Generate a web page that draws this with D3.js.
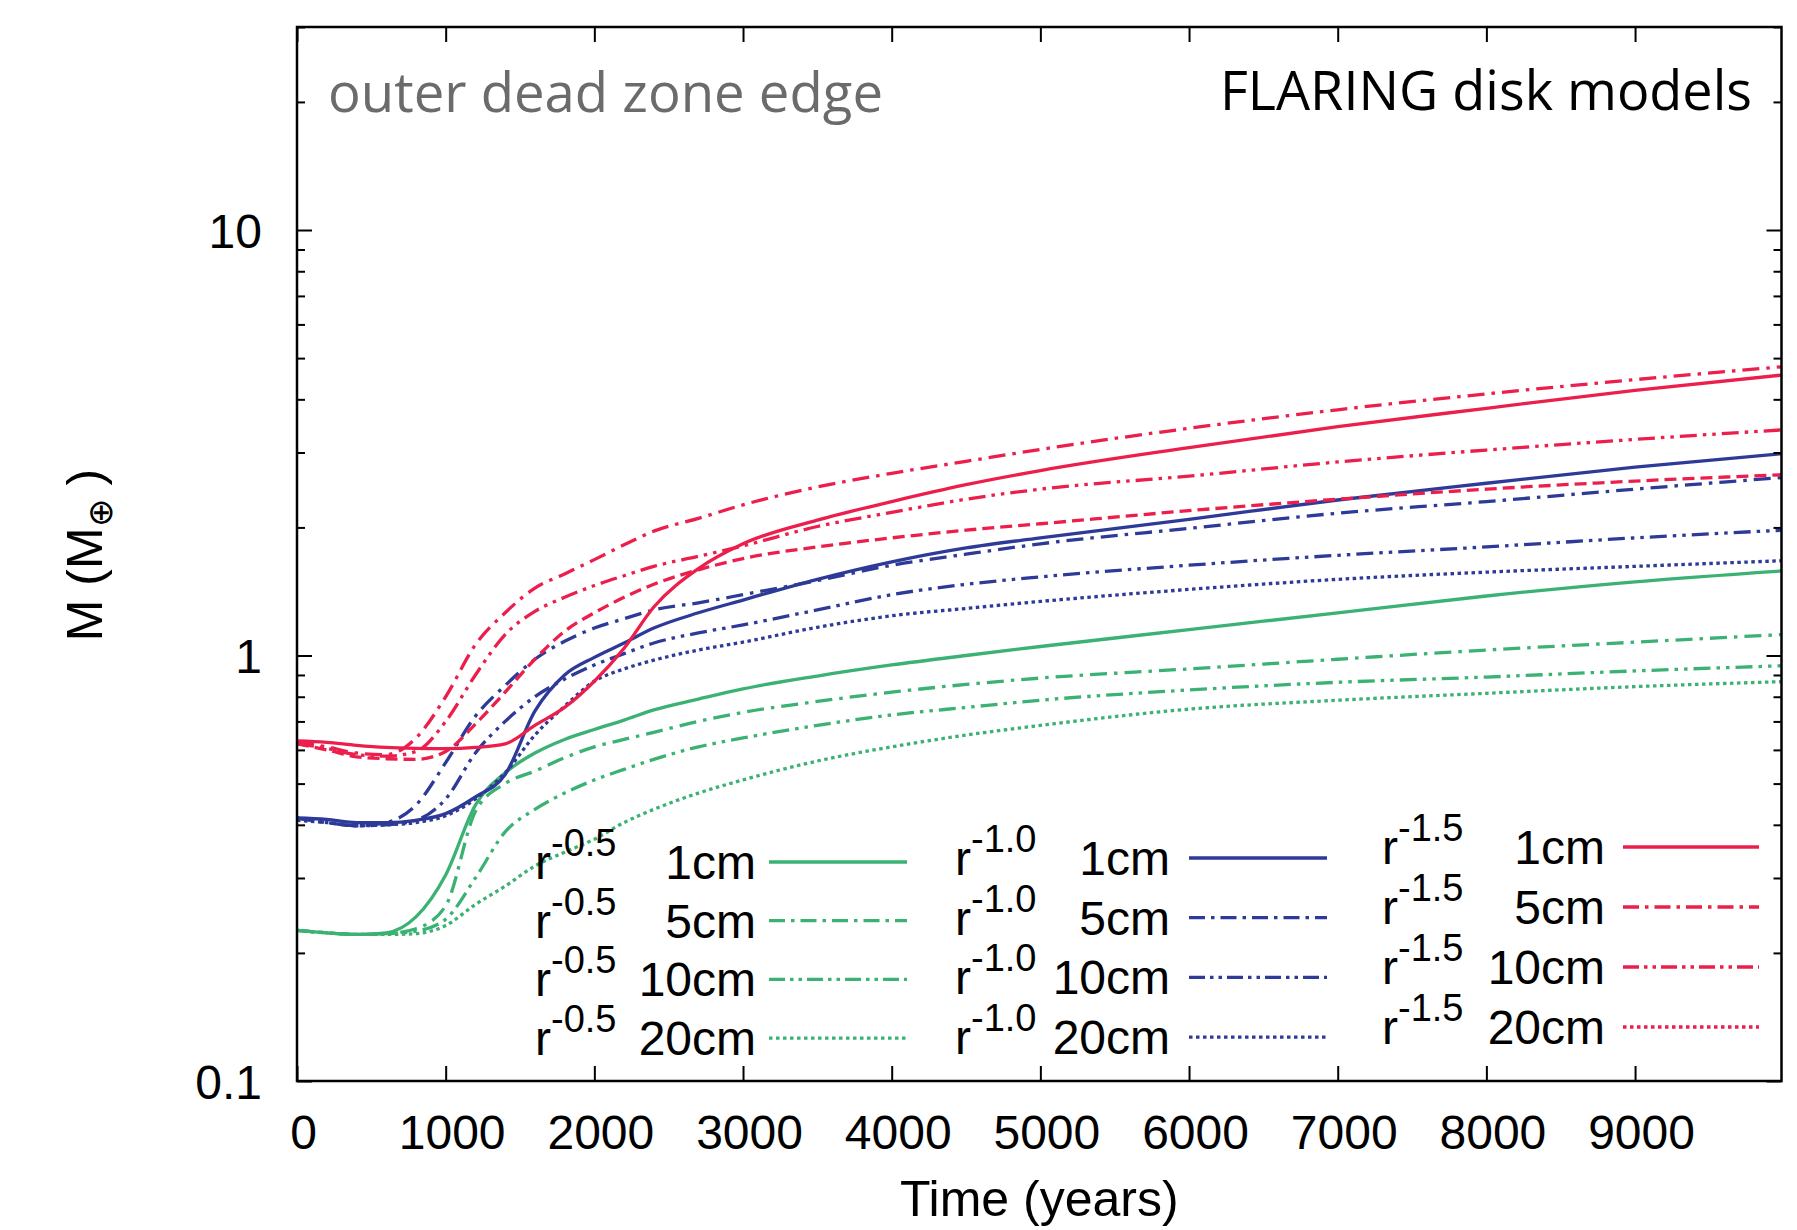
<!DOCTYPE html>
<html>
<head>
<meta charset="utf-8">
<script src="https://cdn.jsdelivr.net/npm/d3@7"></script>
<style>
  body { margin: 0; background: #ffffff; }
  svg { display: block; }
</style>
</head>
<body>
<svg id="chart" width="1797" height="1230"></svg>
<script>
// Sampling times (years)
const times = [0, 200, 400, 600, 800, 1000, 1200, 1400, 1600, 1800, 2000, 2200, 2400,
               2700, 3000, 3500, 4000, 4500, 5000, 6000, 7000, 8000, 9000, 9985];

// Legend categories
const exponents = ["-0.5", "-1.0", "-1.5"];
const sizes = ["1cm", "5cm", "10cm", "20cm"];

// Mass (Earth masses) at the outer dead zone edge, surface density ~ r^-0.5
const mR05_1cm  = [0.226, 0.223, 0.221, 0.223, 0.243, 0.305, 0.445, 0.530, 0.590, 0.635, 0.670, 0.705, 0.745, 0.790, 0.835, 0.895, 0.950, 1.000, 1.050, 1.150, 1.260, 1.380, 1.490, 1.580];
const mR05_5cm  = [0.226, 0.223, 0.221, 0.222, 0.228, 0.258, 0.430, 0.500, 0.535, 0.575, 0.610, 0.635, 0.660, 0.700, 0.735, 0.780, 0.820, 0.855, 0.885, 0.930, 0.980, 1.030, 1.075, 1.120];
const mR05_10cm = [0.226, 0.223, 0.221, 0.222, 0.225, 0.240, 0.300, 0.385, 0.435, 0.475, 0.510, 0.540, 0.570, 0.610, 0.640, 0.685, 0.725, 0.755, 0.785, 0.830, 0.865, 0.890, 0.920, 0.946];
const mR05_20cm = [0.226, 0.223, 0.221, 0.221, 0.222, 0.232, 0.260, 0.287, 0.320, 0.345, 0.370, 0.405, 0.435, 0.475, 0.510, 0.565, 0.610, 0.650, 0.685, 0.748, 0.785, 0.815, 0.845, 0.868];

// surface density ~ r^-1.0
const mR10_1cm  = [0.415, 0.412, 0.405, 0.405, 0.410, 0.425, 0.465, 0.525, 0.740, 0.900, 0.990, 1.070, 1.160, 1.260, 1.350, 1.510, 1.660, 1.790, 1.890, 2.090, 2.320, 2.540, 2.770, 2.980];
const mR10_5cm  = [0.415, 0.405, 0.398, 0.405, 0.445, 0.560, 0.720, 0.850, 0.980, 1.080, 1.160, 1.220, 1.280, 1.330, 1.390, 1.500, 1.630, 1.730, 1.830, 1.990, 2.160, 2.300, 2.460, 2.620];
const mR10_10cm = [0.415, 0.405, 0.398, 0.400, 0.410, 0.460, 0.590, 0.700, 0.800, 0.880, 0.950, 1.010, 1.070, 1.130, 1.180, 1.280, 1.390, 1.470, 1.530, 1.630, 1.720, 1.800, 1.890, 1.970];
const mR10_20cm = [0.410, 0.405, 0.398, 0.400, 0.405, 0.420, 0.460, 0.530, 0.650, 0.760, 0.870, 0.930, 0.975, 1.030, 1.075, 1.165, 1.240, 1.290, 1.340, 1.430, 1.510, 1.570, 1.620, 1.670];

// surface density ~ r^-1.5
const mR15_1cm  = [0.630, 0.625, 0.615, 0.608, 0.605, 0.604, 0.608, 0.620, 0.685, 0.755, 0.870, 1.040, 1.300, 1.600, 1.830, 2.080, 2.300, 2.520, 2.720, 3.080, 3.450, 3.810, 4.200, 4.560];
const mR15_5cm  = [0.625, 0.610, 0.590, 0.585, 0.640, 0.800, 1.060, 1.260, 1.440, 1.555, 1.680, 1.820, 1.960, 2.100, 2.260, 2.490, 2.680, 2.860, 3.050, 3.420, 3.780, 4.120, 4.450, 4.770];
const mR15_10cm = [0.620, 0.605, 0.585, 0.580, 0.595, 0.700, 0.900, 1.120, 1.270, 1.370, 1.460, 1.540, 1.620, 1.710, 1.810, 2.010, 2.170, 2.330, 2.460, 2.640, 2.850, 3.040, 3.220, 3.390];
const mR15_20cm = [0.620, 0.600, 0.578, 0.572, 0.570, 0.595, 0.690, 0.820, 0.980, 1.140, 1.260, 1.370, 1.470, 1.590, 1.690, 1.800, 1.890, 1.970, 2.040, 2.190, 2.330, 2.460, 2.570, 2.660];

// Axis ticks
const xTickValues = [0, 1000, 2000, 3000, 4000, 5000, 6000, 7000, 8000, 9000];
const yMajorTicks = [0.1, 1, 10];
const yMinorTicks = [0.2, 0.3, 0.4, 0.5, 0.6, 0.7, 0.8, 0.9, 2, 3, 4, 5, 6, 7, 8, 9, 20, 30];

// ---------------------------------------------------------------------------
const groupColors = ["#3bb273", "#2e3a97", "#ec1f4c"];
const massTable = [
  [mR05_1cm, mR05_5cm, mR05_10cm, mR05_20cm],
  [mR10_1cm, mR10_5cm, mR10_10cm, mR10_20cm],
  [mR15_1cm, mR15_5cm, mR15_10cm, mR15_20cm]
];
// dash pattern per grain size (legend sample); 1cm solid, 5cm dash-dot, 10cm dash-dot-dot, 20cm dotted
const keyDash = [null, "16,6,3.5,6", "16,5,3.5,5,3.5,5", "3.5,3.5"];
// dash pattern of the plotted curves
const curveDash = [
  [null, "17,7,3.5,7", "17,6,3.5,6,3.5,6", "3.5,3.5"],
  [null, "17,7,3.5,7", "17,6,3.5,6,3.5,6", "3.5,3.5"],
  [null, "17,7,3.5,7", "17,6,3.5,6,3.5,6", "12,6"]
];

const svg = d3.select("#chart");
const plotLeft = 297, plotRight = 1781.5, plotTop = 27, plotBottom = 1081;

const x = d3.scaleLinear().domain([0, 9985]).range([plotLeft, plotRight]);
const y = d3.scaleLog().domain([0.1, 30]).range([plotBottom, plotTop]);

svg.append("rect").attr("width", 1797).attr("height", 1230).attr("fill", "#fff");

svg.append("defs").append("clipPath").attr("id", "plotClip")
  .append("rect").attr("x", plotLeft).attr("y", plotTop)
  .attr("width", plotRight - plotLeft).attr("height", plotBottom - plotTop);

// Curves
const line = d3.line()
  .x((d, i) => x(times[i]))
  .y(d => y(d))
  .curve(d3.curveMonotoneX);

const curves = svg.append("g").attr("clip-path", "url(#plotClip)");
massTable.forEach((group, gi) => {
  group.forEach((vals, si) => {
    curves.append("path")
      .datum(vals)
      .attr("d", line)
      .attr("fill", "none")
      .attr("stroke", groupColors[gi])
      .attr("stroke-width", 3.3)
      .attr("stroke-linejoin", "round")
      .attr("stroke-dasharray", curveDash[gi][si]);
  });
});

// Axes: ticks point inward on all four sides
const fontFamily = "'Liberation Sans', Arial, Helvetica, sans-serif";

function styleAxis(g) {
  g.select(".domain").remove();
  g.selectAll(".tick line").attr("stroke", "#000").attr("stroke-width", 2);
}

const xBottom = svg.append("g").attr("transform", `translate(0,${plotBottom})`)
  .call(d3.axisBottom(x).tickValues(xTickValues).tickSizeInner(-15).tickSizeOuter(0)
    .tickFormat(d3.format("d")));
styleAxis(xBottom);
xBottom.selectAll(".tick text")
  .attr("y", 68).attr("dy", null).attr("dx", 6)
  .attr("font-family", fontFamily).attr("font-size", 48).attr("fill", "#000");

const xTop = svg.append("g").attr("transform", `translate(0,${plotTop})`)
  .call(d3.axisTop(x).tickValues(xTickValues).tickSizeInner(-15).tickSizeOuter(0).tickFormat(""));
styleAxis(xTop);

const yLeft = svg.append("g").attr("transform", `translate(${plotLeft},0)`)
  .call(d3.axisLeft(y).tickValues(yMajorTicks).tickSizeInner(-15).tickSizeOuter(0)
    .tickFormat(d3.format("~g")));
styleAxis(yLeft);
yLeft.selectAll(".tick text")
  .attr("x", -35).attr("dy", "0.36em")
  .attr("font-family", fontFamily).attr("font-size", 48).attr("fill", "#000");

const yLeftMinor = svg.append("g").attr("transform", `translate(${plotLeft},0)`)
  .call(d3.axisLeft(y).tickValues(yMinorTicks).tickSizeInner(-8).tickSizeOuter(0).tickFormat(""));
styleAxis(yLeftMinor);

const yRight = svg.append("g").attr("transform", `translate(${plotRight},0)`)
  .call(d3.axisRight(y).tickValues(yMajorTicks).tickSizeInner(-15).tickSizeOuter(0).tickFormat(""));
styleAxis(yRight);
const yRightMinor = svg.append("g").attr("transform", `translate(${plotRight},0)`)
  .call(d3.axisRight(y).tickValues(yMinorTicks).tickSizeInner(-8).tickSizeOuter(0).tickFormat(""));
styleAxis(yRightMinor);

// Frame
svg.append("rect")
  .attr("x", plotLeft).attr("y", plotTop)
  .attr("width", plotRight - plotLeft).attr("height", plotBottom - plotTop)
  .attr("fill", "none").attr("stroke", "#000").attr("stroke-width", 2.5);

// Axis titles
svg.append("text")
  .attr("x", (plotLeft + plotRight) / 2).attr("y", 1216)
  .attr("text-anchor", "middle")
  .attr("font-family", fontFamily).attr("font-size", 50).attr("fill", "#000")
  .text("Time (years)");

const yTitle = svg.append("text")
  .attr("transform", "translate(102,555) rotate(-90)")
  .attr("text-anchor", "middle")
  .attr("font-family", fontFamily).attr("font-size", 50).attr("fill", "#000");
yTitle.append("tspan").text("M (M");
yTitle.append("tspan").attr("font-size", 34).attr("dy", 10).text("\u2295");
yTitle.append("tspan").attr("dy", -10).text(" )");

// Panel annotations
svg.append("text")
  .attr("x", 328).attr("y", 112)
  .attr("font-family", "'Open Sans', 'Noto Sans', sans-serif").attr("font-size", 54)
  .attr("fill", "#6b6b6b")
  .attr("textLength", 555).attr("lengthAdjust", "spacingAndGlyphs")
  .text("outer dead zone edge");

svg.append("text")
  .attr("x", 1220).attr("y", 110)
  .attr("font-family", "'Open Sans', 'Noto Sans', sans-serif").attr("font-size", 54)
  .attr("fill", "#000")
  .attr("textLength", 532).attr("lengthAdjust", "spacingAndGlyphs")
  .text("FLARING disk models");

// Legend: three columns, one per surface density slope
const keyCols = [
  { rx: 535,  labelRight: 756,  x0: 769,  x1: 907,  y0: 862, step: 58.7 },
  { rx: 955,  labelRight: 1170, x0: 1189, x1: 1327, y0: 858, step: 59.7 },
  { rx: 1382, labelRight: 1605, x0: 1623, x1: 1759, y0: 847, step: 60 }
];
const legend = svg.append("g");
exponents.forEach((ex, gi) => {
  const c = keyCols[gi];
  sizes.forEach((sz, si) => {
    const ly = c.y0 + si * c.step;
    const base = ly + 17;
    const t = legend.append("text")
      .attr("x", c.rx).attr("y", base)
      .attr("font-family", fontFamily).attr("font-size", 48).attr("fill", "#000");
    t.append("tspan").text("r");
    t.append("tspan").attr("font-size", 38).attr("dy", -23).text(ex);
    legend.append("text")
      .attr("x", c.labelRight).attr("y", base)
      .attr("text-anchor", "end")
      .attr("font-family", fontFamily).attr("font-size", 48).attr("fill", "#000")
      .text(sz);
    legend.append("line")
      .attr("x1", c.x0).attr("x2", c.x1).attr("y1", ly).attr("y2", ly)
      .attr("stroke", groupColors[gi]).attr("stroke-width", 3.3)
      .attr("stroke-dasharray", keyDash[si]);
  });
});
</script>
</body>
</html>
